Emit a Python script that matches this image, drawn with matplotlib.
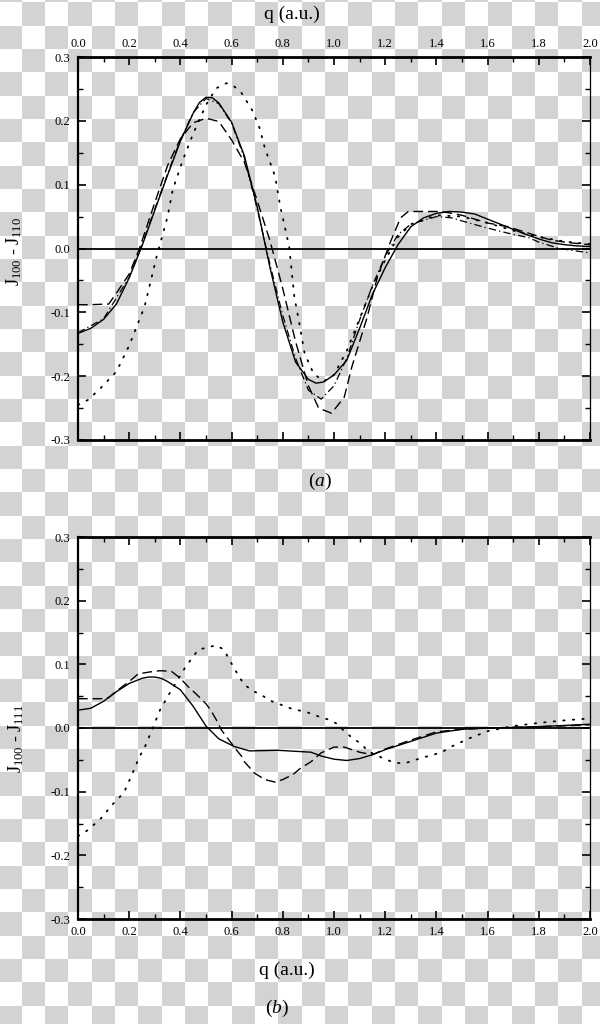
import numpy as np
import matplotlib
matplotlib.use("Agg")
import matplotlib.pyplot as plt
from matplotlib.ticker import MultipleLocator, FormatStrFormatter

plt.rcParams['font.family'] = ['Liberation Serif', 'DejaVu Serif']
plt.rcParams['mathtext.fontset'] = 'custom'
plt.rcParams['mathtext.rm'] = 'Liberation Serif'
plt.rcParams['mathtext.it'] = 'Liberation Serif:italic'
plt.rcParams['axes.unicode_minus'] = False

# ---- panel (a): J100 - J110 ----
qa_solid = [0.00, 0.05, 0.10, 0.15, 0.20, 0.25, 0.30, 0.35, 0.40, 0.45, 0.475,
            0.50, 0.525, 0.55, 0.60, 0.65, 0.70, 0.75, 0.80, 0.85, 0.90, 0.93,
            0.96, 1.00, 1.05, 1.10, 1.15, 1.20, 1.25, 1.30, 1.35, 1.40, 1.45,
            1.50, 1.55, 1.60, 1.65, 1.70, 1.75, 1.80, 1.85, 1.90, 1.95, 2.00]
ja_solid = [-0.133, -0.125, -0.111, -0.087, -0.046, 0.004, 0.060, 0.115, 0.168,
            0.212, 0.229, 0.237, 0.236, 0.228, 0.198, 0.145, 0.065, -0.030,
            -0.115, -0.178, -0.205, -0.211, -0.209, -0.198, -0.175, -0.125,
            -0.072, -0.030, 0.006, 0.034, 0.048, 0.055, 0.058, 0.057, 0.054,
            0.046, 0.038, 0.030, 0.022, 0.015, 0.009, 0.006, 0.004, 0.003]

qa_dash = [0.00, 0.05, 0.12, 0.15, 0.20, 0.24, 0.30, 0.35, 0.40, 0.45, 0.50,
           0.55, 0.60, 0.65, 0.70, 0.75, 0.80, 0.85, 0.90, 0.94, 0.99, 1.04,
           1.07, 1.13, 1.17, 1.22, 1.26, 1.29, 1.42, 1.50, 1.60, 1.68, 1.76,
           1.85, 1.92, 2.00]
ja_dash = [-0.088, -0.088, -0.087, -0.070, -0.040, 0.000, 0.072, 0.130, 0.172,
           0.197, 0.204, 0.199, 0.170, 0.135, 0.075, 0.012, -0.063, -0.146,
           -0.215, -0.250, -0.258, -0.233, -0.185, -0.107, -0.044, 0.010, 0.048,
           0.058, 0.058, 0.052, 0.040, 0.034, 0.024, 0.013, 0.009, 0.006]

qa_dd = [0.00, 0.10, 0.20, 0.25, 0.30, 0.35, 0.40, 0.45, 0.50, 0.55, 0.60, 0.65,
         0.70, 0.75, 0.80, 0.85, 0.90, 0.95, 1.00, 1.05, 1.10, 1.15, 1.20, 1.25,
         1.30, 1.40, 1.46, 1.51, 1.60, 1.68, 1.76, 1.80, 1.88, 2.00]
ja_dd = [-0.132, -0.110, -0.045, 0.006, 0.062, 0.117, 0.170, 0.213, 0.235, 0.227,
         0.196, 0.142, 0.062, -0.025, -0.105, -0.172, -0.222, -0.236, -0.215,
         -0.172, -0.112, -0.058, -0.012, 0.022, 0.038, 0.050, 0.048, 0.042, 0.032,
         0.024, 0.017, 0.010, 0.000, -0.007]

qa_dot = [0.00, 0.04, 0.09, 0.15, 0.20, 0.26, 0.31, 0.35, 0.37, 0.41, 0.45, 0.50,
          0.54, 0.58, 0.61, 0.64, 0.68, 0.71, 0.73, 0.77, 0.79, 0.825, 0.845,
          0.86, 0.885, 0.92, 0.96, 1.00, 1.05, 1.10, 1.15, 1.20, 1.25, 1.30,
          1.40, 1.50, 1.60, 1.70, 1.80, 1.90, 2.00]
ja_dot = [-0.245, -0.237, -0.218, -0.193, -0.152, -0.091, -0.008, 0.050, 0.092,
          0.139, 0.180, 0.225, 0.251, 0.259, 0.254, 0.243, 0.217, 0.188, 0.157,
          0.113, 0.066, 0.003, -0.076, -0.107, -0.164, -0.196, -0.208, -0.198,
          -0.160, -0.110, -0.060, -0.018, 0.018, 0.038, 0.052, 0.050, 0.040,
          0.028, 0.018, 0.011, 0.007]

# ---- panel (b): J100 - J111 ----
qb_solid = [0.00, 0.05, 0.10, 0.15, 0.20, 0.25, 0.275, 0.30, 0.325, 0.35, 0.40,
            0.45, 0.50, 0.55, 0.61, 0.67, 0.78, 0.91, 0.95, 1.00, 1.05, 1.10,
            1.15, 1.20, 1.30, 1.40, 1.50, 1.60, 1.80, 2.00]
jb_solid = [0.028, 0.031, 0.042, 0.057, 0.070, 0.078, 0.080, 0.080, 0.078, 0.073,
            0.060, 0.034, 0.003, -0.017, -0.029, -0.036, -0.035, -0.038, -0.044,
            -0.049, -0.051, -0.048, -0.042, -0.034, -0.021, -0.008, -0.002,
            0.000, 0.002, 0.006]

qb_dash = [0.00, 0.05, 0.10, 0.12, 0.15, 0.20, 0.235, 0.28, 0.32, 0.365, 0.40,
           0.43, 0.46, 0.50, 0.52, 0.54, 0.56, 0.59, 0.62, 0.64, 0.65, 0.69,
           0.73, 0.77, 0.80, 0.84, 0.87, 0.91, 0.95, 1.00, 1.04, 1.10, 1.15,
           1.20, 1.30, 1.40, 1.50, 1.60, 1.80, 2.00]
jb_dash = [0.046, 0.046, 0.046, 0.048, 0.058, 0.073, 0.085, 0.088, 0.090, 0.089,
           0.078, 0.065, 0.054, 0.038, 0.027, 0.013, -0.003, -0.019, -0.035,
           -0.045, -0.053, -0.071, -0.081, -0.085, -0.081, -0.073, -0.063,
           -0.053, -0.039, -0.030, -0.030, -0.038, -0.042, -0.033, -0.019,
           -0.006, -0.002, 0.000, 0.002, 0.005]

qb_dot = [0.00, 0.04, 0.07, 0.10, 0.125, 0.15, 0.18, 0.21, 0.24, 0.26, 0.29, 0.32,
          0.36, 0.42, 0.47, 0.54, 0.57, 0.59, 0.61, 0.63, 0.65, 0.68, 0.72, 0.75,
          0.83, 0.90, 0.94, 0.98, 1.01, 1.04, 1.07, 1.11, 1.13, 1.20, 1.24, 1.28,
          1.35, 1.39, 1.43, 1.46, 1.53, 1.60, 1.70, 1.80, 1.90, 2.00]
jb_dot = [-0.170, -0.160, -0.149, -0.138, -0.124, -0.114, -0.101, -0.074, -0.045,
          -0.031, -0.002, 0.028, 0.056, 0.096, 0.123, 0.130, 0.123, 0.108, 0.094,
          0.080, 0.068, 0.059, 0.051, 0.043, 0.031, 0.024, 0.018, 0.013, 0.007,
          -0.005, -0.015, -0.026, -0.036, -0.049, -0.055, -0.055, -0.046, -0.042,
          -0.036, -0.029, -0.016, -0.005, 0.003, 0.008, 0.012, 0.015]

W, H = 600, 1024
fig = plt.figure(figsize=(W / 100, H / 100), dpi=100)

# transparent-background checkerboard, as in the reference picture
cell = 70 / 3
yy, xx = np.mgrid[0:H, 0:W]
grey = ((np.floor((xx + 2) / cell) + np.floor((yy - 1.7) / cell)) % 2) == 1
fig.figimage(np.where(grey, 0.83, 1.0), xo=0, yo=0, origin='upper',
             cmap='gray', vmin=0, vmax=1, zorder=-5)

DASH = (0, (7, 3.5))
DASHDOT = (0, (6, 2.5, 1, 2.5))
DOT = (0, (0.8, 4.5))


def style(ax):
    ax.set_facecolor('none')
    ax.set_xlim(0, 2.0)
    ax.set_ylim(-0.3, 0.3)
    ax.xaxis.set_major_locator(MultipleLocator(0.2))
    ax.xaxis.set_minor_locator(MultipleLocator(0.1))
    ax.yaxis.set_major_locator(MultipleLocator(0.1))
    ax.yaxis.set_minor_locator(MultipleLocator(0.05))
    ax.xaxis.set_major_formatter(FormatStrFormatter('%.1f'))
    ax.yaxis.set_major_formatter(FormatStrFormatter('%.1f'))
    ax.tick_params(which='both', direction='in', top=True, right=True,
                   labelsize=9)
    ax.tick_params(which='major', length=6, width=1.2)
    ax.tick_params(which='minor', length=3.5, width=1.0)
    ax.tick_params(axis='y', pad=5.5)
    for side, lw in [('left', 1.6), ('top', 2.0), ('bottom', 2.0), ('right', 0.9)]:
        ax.spines[side].set_linewidth(lw)
    ax.axhline(0, color='k', lw=1.3)


def px(x0, y0, x1, y1):
    return [x0 / W, 1 - y1 / H, (x1 - x0) / W, (y1 - y0) / H]


ax1 = fig.add_axes(px(78, 57, 590, 440))
style(ax1)
ax1.tick_params(axis='x', labeltop=True, labelbottom=False, pad=5)
ax1.plot(qa_solid, ja_solid, color='k', lw=1.0)
ax1.plot(qa_dash, ja_dash, color='k', lw=1.0, ls=DASH)
ax1.plot(qa_dd, ja_dd, color='k', lw=0.9, ls=DASHDOT)
ax1.plot(qa_dot, ja_dot, color='k', lw=1.3, ls=DOT, dash_capstyle='round')

ax2 = fig.add_axes(px(78, 537, 590, 919))
style(ax2)
ax2.tick_params(axis='x', pad=5)
ax2.plot(qb_solid, jb_solid, color='k', lw=1.0)
ax2.plot(qb_dash, jb_dash, color='k', lw=1.0, ls=DASH)
ax2.plot(qb_dot, jb_dot, color='k', lw=1.3, ls=DOT, dash_capstyle='round')

# labels
fig.text(292 / W, 1 - 14 / H, 'q (a.u.)', ha='center', va='center', fontsize=14)
fig.text(320 / W, 1 - 481 / H, '($a$)', ha='center', va='center', fontsize=14)
fig.text(287 / W, 1 - 970 / H, 'q (a.u.)', ha='center', va='center', fontsize=14)
fig.text(277 / W, 1 - 1008 / H, '($b$)', ha='center', va='center', fontsize=14)
fig.text(14 / W, 1 - 251 / H, r'J$_{100}$ - J$_{110}$', rotation=90,
         ha='center', va='center', fontsize=13)
fig.text(16 / W, 1 - 739 / H, r'J$_{100}$ - J$_{111}$', rotation=90,
         ha='center', va='center', fontsize=13)

fig.savefig('out.png', dpi=100)
